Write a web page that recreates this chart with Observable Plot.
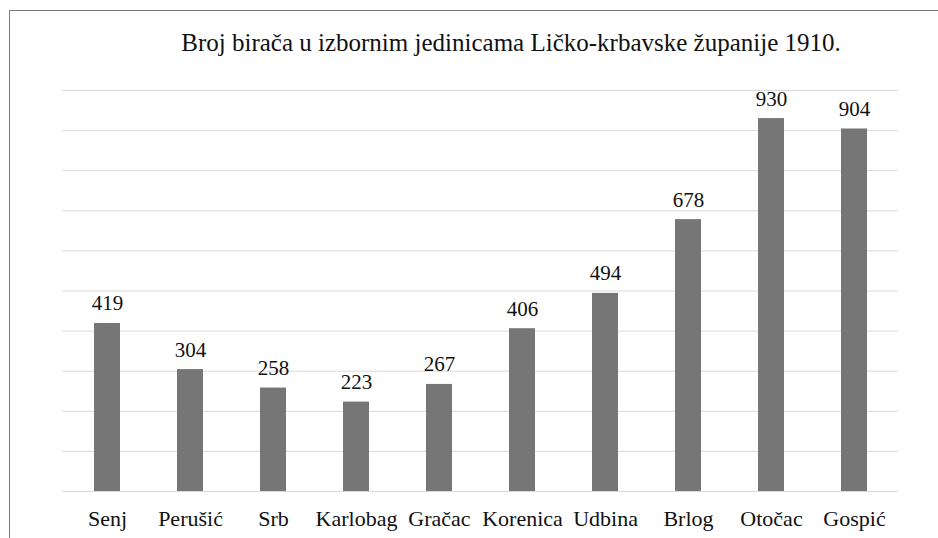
<!DOCTYPE html>
<html>
<head>
<meta charset="utf-8">
<script src="https://cdn.jsdelivr.net/npm/d3@7"></script>
<script src="https://cdn.jsdelivr.net/npm/@observablehq/plot@0.6"></script>
</head>
<body style="margin:0;padding:0;background:#fff">
<div id="wrap" style="position:relative;width:938px;height:538px;overflow:hidden;background:#fff">
  <div style="position:absolute;left:9px;top:10px;width:960px;height:560px;border-left:1px solid #7a7a7a;border-top:1px solid #7a7a7a"></div>
  <div id="chart" style="position:absolute;left:0;top:0"></div>
  <div id="title" style="position:absolute;left:0;width:1022px;top:30px;text-align:center;font-family:'Liberation Serif',serif;font-size:25px;line-height:25px;color:#111;white-space:nowrap">Broj birača u izbornim jedinicama Ličko-krbavske županije 1910.</div>
</div>
<script>
const categories = ["Senj", "Perušić", "Srb", "Karlobag", "Gračac", "Korenica", "Udbina", "Brlog", "Otočac", "Gospić"];
const values = [419, 304, 258, 223, 267, 406, 494, 678, 930, 904];
const yTicks = [0, 100, 200, 300, 400, 500, 600, 700, 800, 900, 1000];

const data = categories.map((c, i) => ({ name: c, value: values[i] }));

const chart = Plot.plot({
  width: 938,
  height: 538,
  marginTop: 90,
  marginBottom: 47,
  marginLeft: 62,
  marginRight: 40,
  style: { background: "transparent", color: "#111", fontFamily: "'Liberation Serif', serif" },
  x: { domain: categories, paddingInner: 0.69, paddingOuter: 0.345 },
  y: { domain: [0, 1000] },
  marks: [
    Plot.gridY(yTicks, { stroke: "#d9d9d9", strokeOpacity: 1, strokeWidth: 1 }),
    Plot.barY(data, { x: "name", y: "value", fill: "#767676" }),
    Plot.text(data, { x: "name", y: "value", text: d => String(d.value), lineAnchor: "bottom", dy: -13, fontSize: 21, fill: "#111" }),
    Plot.axisX({ tickSize: 0, tickPadding: 19, fontSize: 22, label: null, fill: "#111" }),
    Plot.axisY({ ticks: [], label: null, tickSize: 0 })
  ]
});
chart.querySelectorAll("text").forEach(el => el.style.setProperty("font-family", "'Liberation Serif', serif"));
document.getElementById("chart").appendChild(chart);
</script>
</body>
</html>
